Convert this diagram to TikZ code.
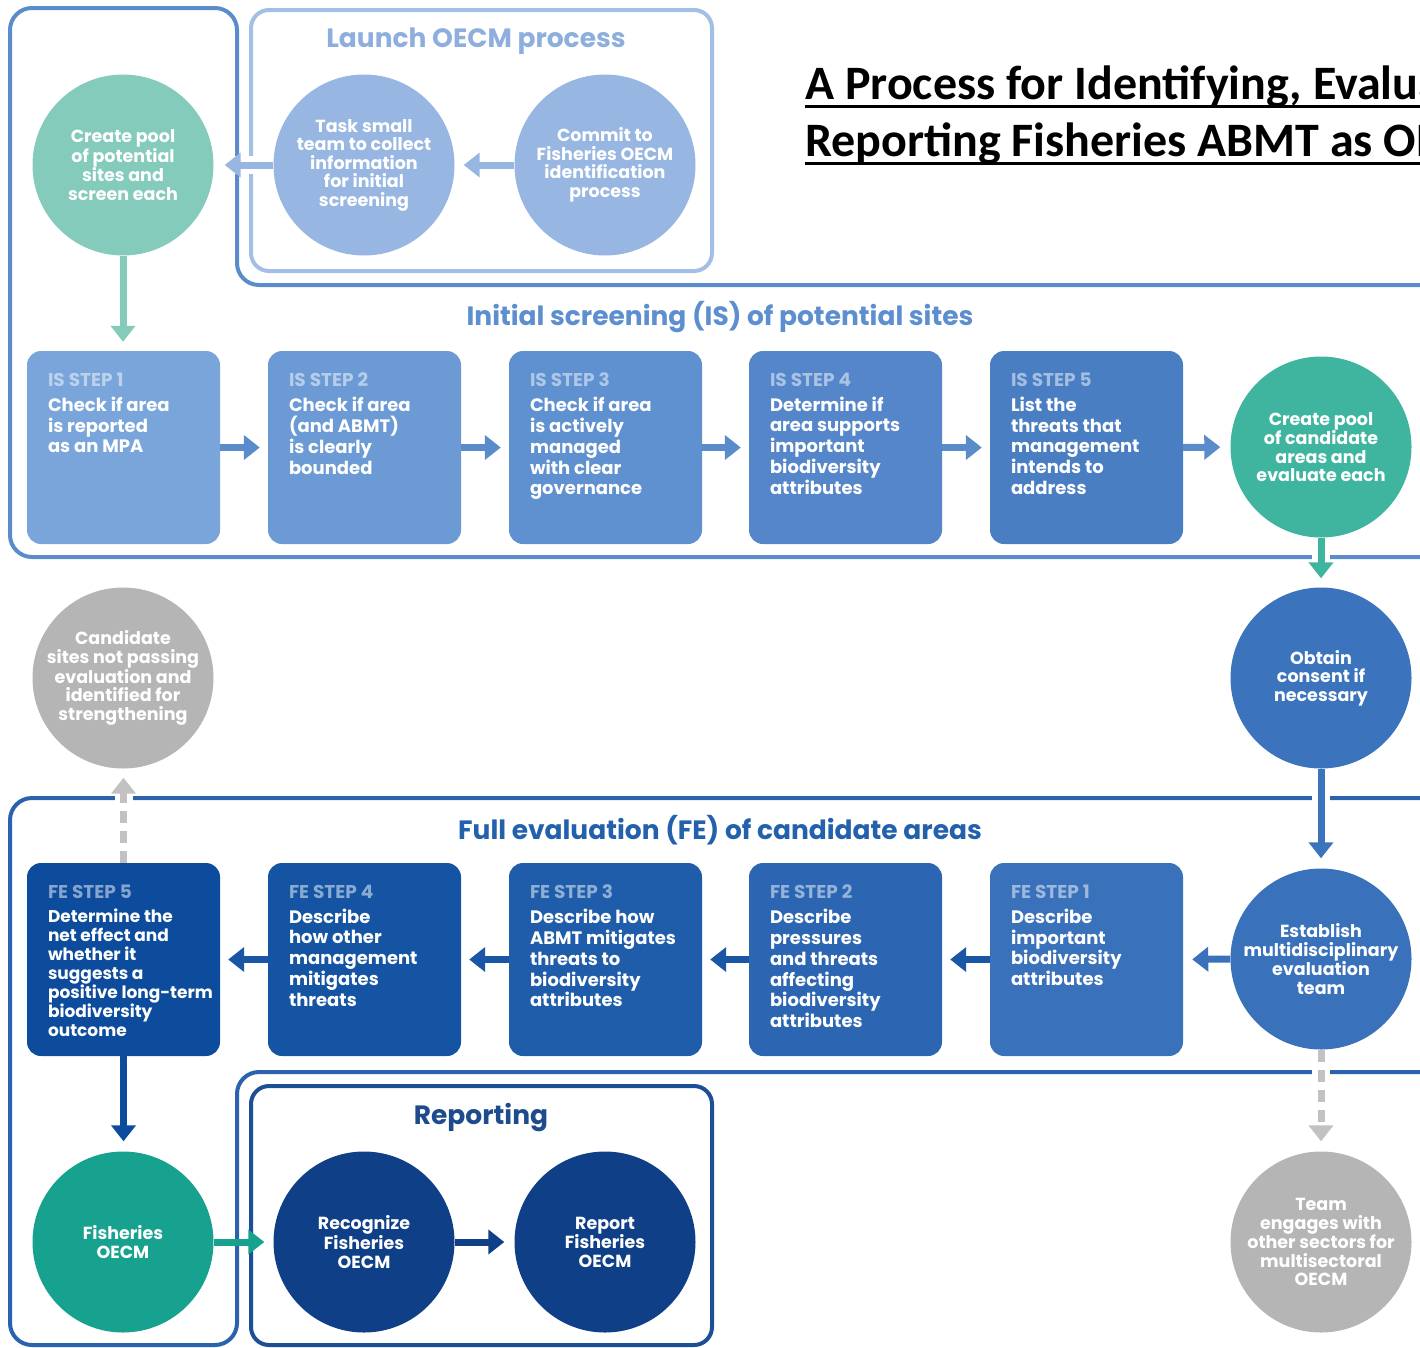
\documentclass[tikz,border=0pt]{standalone}
\usepackage{fontspec}
\setmainfont{Poppins}
\newfontfamily\titlefont{Carlito}
\usetikzlibrary{arrows.meta}
\definecolor{isframe}{HTML}{5A8BCB}
\definecolor{launchframe}{HTML}{A3BFE6}
\definecolor{launchtitle}{HTML}{8EAEDD}
\definecolor{launchc}{HTML}{98B6E2}
\definecolor{greenL}{HTML}{84CBBB}
\definecolor{isA}{HTML}{7AA5DA}
\definecolor{isB}{HTML}{6C9AD5}
\definecolor{isC}{HTML}{5F90CF}
\definecolor{isD}{HTML}{5486C9}
\definecolor{isE}{HTML}{4A7EC3}
\definecolor{istitle}{HTML}{5D8FD0}
\definecolor{isarrow}{HTML}{5A8BCB}
\definecolor{tealM}{HTML}{3FB5A0}
\definecolor{consentc}{HTML}{3B74BD}
\definecolor{feframe}{HTML}{2A62AE}
\definecolor{fetitle}{HTML}{2461AD}
\definecolor{feA}{HTML}{3A71BB}
\definecolor{feB}{HTML}{2C66B2}
\definecolor{feC}{HTML}{1F5DAA}
\definecolor{feD}{HTML}{1454A2}
\definecolor{feE}{HTML}{0D4C9C}
\definecolor{fearrow}{HTML}{1A56A5}
\definecolor{grayc}{HTML}{B5B5B5}
\definecolor{graya}{HTML}{C2C2C2}
\definecolor{tealD}{HTML}{16A28E}
\definecolor{repframe}{HTML}{1D4F96}
\definecolor{navy}{HTML}{0F3F86}
\definecolor{reptitle}{HTML}{1D4B8C}
\newcommand\steplab[2]{{\fontsize{18.5}{20}\selectfont\textcolor{white!50!#2}{#1}}}
\begin{document}
\begin{tikzpicture}[x=1pt,y=-1pt,
  circ/.style={circle, minimum size=181pt, inner sep=0pt, text=white, align=center,
    font=\fontsize{17.5}{18.5}\selectfont\bfseries},
  stepbox/.style={rounded corners=14pt, minimum width=193pt, minimum height=193pt, inner sep=0pt},
  steptext/.style={anchor=north west, align=left, text=white, inner sep=0pt,
    font=\fontsize{18}{20.8}\selectfont\bfseries},
  frame/.style={line width=4pt, rounded corners=22pt},
  sectitle/.style={font=\fontsize{26.5}{30}\selectfont\bfseries, inner sep=0pt},
  arr/.style={line width=7pt, -{Triangle[width=24pt,length=16pt]}},
  mask/.style={draw=white, line width=18pt, shorten <=7pt, shorten >=7pt},
  dash7/.style={dash pattern=on 12pt off 8pt}
]
\useasboundingbox (0,0) rectangle (1420,1347);
\clip (0,0) rectangle (1420,1347);

% frames
\draw[frame, draw=isframe] (10,8) -- (237,8) -- (237,285) -- (1445,285) -- (1445,557) -- (10,557) -- cycle;
\draw[frame, draw=launchframe, rounded corners=18pt] (251,10) rectangle (712,271);
\draw[frame, draw=feframe] (10,798) -- (1445,798) -- (1445,1072) -- (237,1072) -- (237,1345) -- (10,1345) -- cycle;
\draw[frame, draw=repframe, rounded corners=18pt] (251,1086) rectangle (712,1345);

% title
\node[anchor=base west, inner sep=0pt, font=\titlefont\bfseries\fontsize{48}{58}\selectfont] (t1) at (805,99) {A Process for Identifying, Evaluating, and};
\node[anchor=base west, inner sep=0pt, font=\titlefont\bfseries\fontsize{48}{58}\selectfont] (t2) at (805,156) {Reporting Fisheries ABMT as OECMs};
\draw[line width=3pt] ([yshift=-7pt]t1.base west) -- ([yshift=-7pt]t1.base east);
\draw[line width=3pt] ([yshift=-7pt]t2.base west) -- ([yshift=-7pt]t2.base east);

% section titles
\node[sectitle, text=launchtitle] (lt) at (476,41) {Launch OECM process};
\node[sectitle, text=istitle] (ist) at (720,317) {Initial screening (IS) of potential sites};
\node[sectitle, text=fetitle] (fet) at (720,830) {Full evaluation (FE) of candidate areas};
\node[sectitle, text=reptitle] (rpt) at (481,1118) {Reporting};

% circles
\node[circ, fill=greenL] (pool1) at (123,165) {Create pool\\of potential\\sites and\\screen each};
\node[circ, fill=launchc] (task) at (364,165) {Task small\\team to collect\\information\\for initial\\screening};
\node[circ, fill=launchc] (commit) at (605,165) {Commit to\\Fisheries OECM\\identification\\process};
\node[circ, fill=tealM] (pool2) at (1321,447) {Create pool\\of candidate\\areas and\\evaluate each};
\node[circ, fill=consentc] (consent) at (1321,678) {Obtain\\consent if\\necessary};
\node[circ, fill=grayc] (cand) at (123,678) {Candidate\\sites not passing\\evaluation and\\identified for\\strengthening};
\node[circ, fill=feA] (estab) at (1321,959) {Establish\\multidisciplinary\\evaluation\\team};
\node[circ, fill=grayc] (team) at (1321,1242) {Team\\engages with\\other sectors for\\multisectoral\\OECM};
\node[circ, fill=tealD] (fish) at (123,1242) {Fisheries\\OECM};
\node[circ, fill=navy] (recog) at (364,1242) {Recognize\\Fisheries\\OECM};
\node[circ, fill=navy] (report) at (605,1242) {Report\\Fisheries\\OECM};

% IS boxes
\node[stepbox, fill=isA] (is1) at (123.5,447.5) {};
\node[stepbox, fill=isB] (is2) at (364.5,447.5) {};
\node[stepbox, fill=isC] (is3) at (605.5,447.5) {};
\node[stepbox, fill=isD] (is4) at (845.5,447.5) {};
\node[stepbox, fill=isE] (is5) at (1086.5,447.5) {};
\node[steptext] (is1t) at ([shift={(21,22)}]is1.north west) {\steplab{IS STEP 1}{isA}\\[4pt]Check if area\\is reported\\as an MPA};
\node[steptext] (is2t) at ([shift={(21,22)}]is2.north west) {\steplab{IS STEP 2}{isB}\\[4pt]Check if area\\(and ABMT)\\is clearly\\bounded};
\node[steptext] (is3t) at ([shift={(21,22)}]is3.north west) {\steplab{IS STEP 3}{isC}\\[4pt]Check if area\\is actively\\managed\\with clear\\governance};
\node[steptext] (is4t) at ([shift={(21,22)}]is4.north west) {\steplab{IS STEP 4}{isD}\\[4pt]Determine if\\area supports\\important\\biodiversity\\attributes};
\node[steptext] (is5t) at ([shift={(21,22)}]is5.north west) {\steplab{IS STEP 5}{isE}\\[4pt]List the\\threats that\\management\\intends to\\address};

% FE boxes
\node[stepbox, fill=feE] (fe5) at (123.5,959.5) {};
\node[stepbox, fill=feD] (fe4) at (364.5,959.5) {};
\node[stepbox, fill=feC] (fe3) at (605.5,959.5) {};
\node[stepbox, fill=feB] (fe2) at (845.5,959.5) {};
\node[stepbox, fill=feA] (fe1) at (1086.5,959.5) {};
\node[steptext, font=\fontsize{17}{19}\selectfont\bfseries] (fe5t) at ([shift={(21,22)}]fe5.north west) {\steplab{FE STEP 5}{feE}\\[5pt]Determine the\\net effect and\\whether it\\suggests a\\positive long-term\\biodiversity\\outcome};
\node[steptext] (fe4t) at ([shift={(21,22)}]fe4.north west) {\steplab{FE STEP 4}{feD}\\[4pt]Describe\\how other\\management\\mitigates\\threats};
\node[steptext] (fe3t) at ([shift={(21,22)}]fe3.north west) {\steplab{FE STEP 3}{feC}\\[4pt]Describe how\\ABMT mitigates\\threats to\\biodiversity\\attributes};
\node[steptext] (fe2t) at ([shift={(21,22)}]fe2.north west) {\steplab{FE STEP 2}{feB}\\[4pt]Describe\\pressures\\and threats\\affecting\\biodiversity\\attributes};
\node[steptext] (fe1t) at ([shift={(21,22)}]fe1.north west) {\steplab{FE STEP 1}{feA}\\[4pt]Describe\\important\\biodiversity\\attributes};

% masks where arrows cross frames
\draw[mask] (task.west) -- (pool1.east);
\draw[mask] (pool2.south) -- (consent.north);
\draw[mask] (consent.south) -- (estab.north);
\draw[mask] (estab.south) -- (team.north);
\draw[mask] (fe5.north) -- (fe5.north |- cand.south);

% arrows
\draw[arr, draw=launchc, shorten >=9pt] (commit.west) -- (task.east);
\draw[arr, draw=launchc, shorten >=11pt] (task.west) -- (pool1.east);
\draw[arr, draw=greenL, shorten >=9pt] (pool1.south) -- (pool1.south |- is1.north);
\draw[arr, draw=isarrow, shorten >=8pt] (is1.east) -- (is2.west);
\draw[arr, draw=isarrow, shorten >=8pt] (is2.east) -- (is3.west);
\draw[arr, draw=isarrow, shorten >=8pt] (is3.east) -- (is4.west);
\draw[arr, draw=isarrow, shorten >=8pt] (is4.east) -- (is5.west);
\draw[arr, draw=isarrow, shorten >=10pt] (is5.east) -- (pool2.west);
\draw[arr, draw=tealM, shorten >=9pt] (pool2.south) -- (consent.north);
\draw[arr, draw=consentc, shorten >=10pt] (consent.south) -- (estab.north);
\draw[arr, draw=feA, shorten >=9pt] (estab.west) -- (fe1.east);
\draw[arr, draw=fearrow, shorten >=8pt] (fe1.west) -- (fe2.east);
\draw[arr, draw=fearrow, shorten >=8pt] (fe2.west) -- (fe3.east);
\draw[arr, draw=fearrow, shorten >=8pt] (fe3.west) -- (fe4.east);
\draw[arr, draw=fearrow, shorten >=8pt] (fe4.west) -- (fe5.east);
\draw[arr, draw=graya, dash7, shorten >=9pt] (fe5.north) -- (fe5.north |- cand.south);
\draw[arr, draw=graya, dash7, shorten >=10pt] (estab.south) -- (team.north);
\draw[arr, draw=feE, shorten >=10pt] (fe5.south) -- (fe5.south |- fish.north);
\draw[arr, draw=tealD, shorten >=9pt] (fish.east) -- (recog.west);
\draw[arr, draw=navy, shorten >=10pt] (recog.east) -- (report.west);
\end{tikzpicture}
\end{document}
